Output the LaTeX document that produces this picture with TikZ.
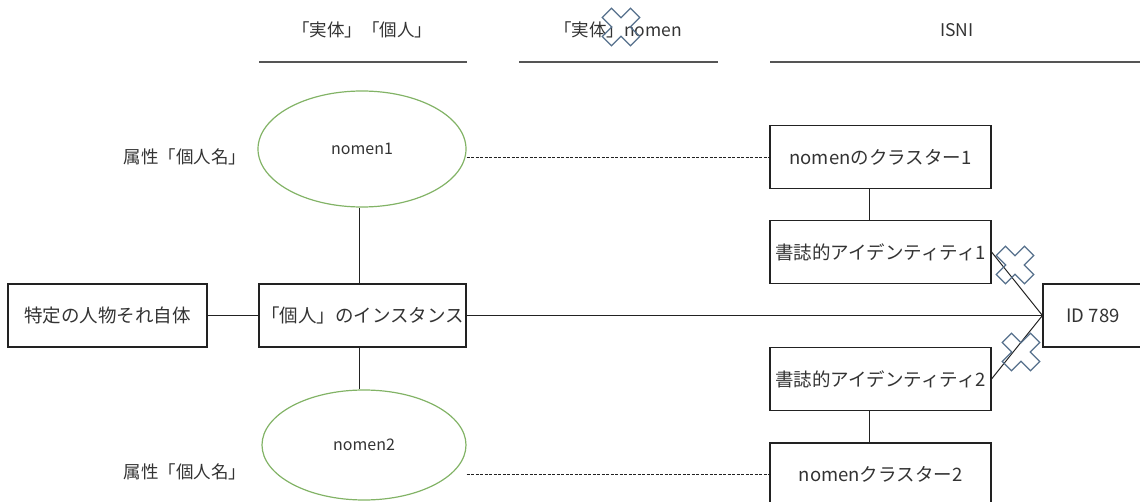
\documentclass[tikz,border=0pt]{standalone}
\usepackage{fontspec}
\setmainfont{Noto Sans CJK JP}
\usetikzlibrary{shapes.geometric}
\definecolor{txt}{HTML}{333333}
\definecolor{edge}{HTML}{222222}
\definecolor{grn}{HTML}{82B366}
\definecolor{xcol}{HTML}{56708C}
\definecolor{rulec}{HTML}{555555}
\begin{document}
\begin{tikzpicture}[x=1pt,y=-1pt,
 every node/.style={text=txt, font=\fontsize{18.5}{22}\selectfont},
 head/.style={font=\fontsize{17.5}{21}\selectfont},
 box/.style={draw=edge, line width=1.1pt, rectangle, inner sep=0pt, minimum height=63pt},
 oval/.style={draw=grn, line width=1.2pt, ellipse, inner sep=0pt, font=\fontsize{16}{19}\selectfont},
 link/.style={draw=edge, line width=1pt},
 dlink/.style={draw=edge, dash pattern=on 3pt off 1.5pt, line width=0.9pt},
 hrule/.style={draw=rulec, line width=2pt},
 xmark/.pic={\draw[draw=xcol, line width=1.2pt, rotate=45, line join=miter]
   (-6.5,-20) -- (6.5,-20) -- (6.5,-6.5) -- (20,-6.5) -- (20,6.5) -- (6.5,6.5) -- (6.5,20)
   -- (-6.5,20) -- (-6.5,6.5) -- (-20,6.5) -- (-20,-6.5) -- (-6.5,-6.5) -- cycle;}
]
\useasboundingbox (0,0) rectangle (1140,502);
\clip (0,0) rectangle (1140,502);

% headers
\node[head] (h1) at (362,30) {「実体」「個人」};
\node[head] (h2) at (618,30) {「実体」nomen};
\node[head] (h3) at (957,30) {ISNI};
\draw[hrule] (259,62) -- (467,62);
\draw[hrule] (519,62) -- (718,62);
\draw[hrule] (770,62) -- (1143,62);

% side labels
\node[head] (a1) at (185,157) {属性「個人名」};
\node[head] (a2) at (185,472) {属性「個人名」};

% ellipses
\node[oval, minimum width=208pt, minimum height=116pt] (n1) at (362,149) {nomen1};
\node[oval, minimum width=204pt, minimum height=110pt] (n2) at (364,445) {nomen2};

% boxes
\node[box, minimum width=199pt] (ent) at (107.5,315.5) {特定の人物それ自体};
\node[box, minimum width=207pt] (inst) at (362.5,315.5) {「個人」のインスタンス};
\node[box, minimum width=221pt] (c1) at (880.5,157) {nomenのクラスター1};
\node[box, minimum width=221pt] (b1) at (880.5,252) {書誌的アイデンティティ1};
\node[box, minimum width=221pt] (b2) at (880.5,379) {書誌的アイデンティティ2};
\node[box, minimum width=221pt] (c2) at (880.5,474.5) {nomenクラスター2};
\node[box, minimum width=100pt] (id) at (1093,315.5) {ID 789};

% connectors
\draw[link] (ent) -- (inst);
\draw[link] ([xshift=-3.5pt]inst.north) -- ([xshift=-3.5pt]inst.north |- n1.south);
\draw[link] ([xshift=-3.5pt]inst.south) -- ([xshift=-3.5pt]inst.south |- n2.north);
\draw[dlink] (c1.west -| n1.east) -- (c1.west);
\draw[dlink] (c2.west -| n2.east) -- (c2.west);
\draw[link] ([xshift=-11pt]c1.south) -- ([xshift=-11pt]b1.north);
\draw[link] ([xshift=-11pt]b2.south) -- ([xshift=-11pt]c2.north);
\draw[link] (inst.east) -- (id.west);
\draw[link] (b1.east) -- (id.west);
\draw[link] (b2.east) -- (id.west);

% cross marks
\pic at (621,27) {xmark};
\pic at (1015,265) {xmark};
\pic at (1021,352) {xmark};
\end{tikzpicture}
\end{document}
